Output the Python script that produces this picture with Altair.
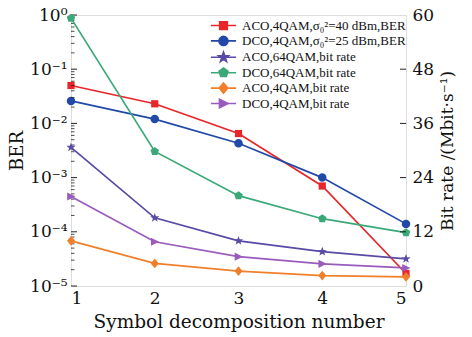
import altair as alt
import pandas as pd

# ---- data ----
symbols = [1, 2, 3, 4, 5]
series_names = [
    "ACO,4QAM,σ₀²=40 dBm,BER",
    "DCO,4QAM,σ₀²=25 dBm,BER",
    "ACO,64QAM,bit rate",
    "DCO,64QAM,bit rate",
    "ACO,4QAM,bit rate",
    "DCO,4QAM,bit rate",
]
aco_4qam_ber = [5.0e-2, 2.3e-2, 6.5e-3, 7.0e-4, 1.7e-5]
dco_4qam_ber = [2.6e-2, 1.2e-2, 4.3e-3, 1.0e-3, 1.4e-4]
aco_64qam_rate = [30.7, 15.1, 10.0, 7.6, 6.0]
dco_64qam_rate = [59.3, 29.8, 20.0, 14.9, 11.8]
aco_4qam_rate = [10.0, 5.0, 3.3, 2.3, 2.0]
dco_4qam_rate = [19.8, 9.8, 6.5, 4.9, 4.0]

ber_ticks_major = [1e-5, 1e-4, 1e-3, 1e-2, 1e-1, 1.0]
ber_ticks_minor = [m * 10.0 ** k for k in range(-5, 0) for m in range(2, 10)]
rate_ticks = [0, 12, 24, 36, 48, 60]

colors = ["#E8262A", "#2248A8", "#5A4AA6", "#3BA877", "#F07F2B", "#9A5BBE"]

# marker outlines (unit square paths)
p_square = "M-0.85,-0.85H0.85V0.85H-0.85Z"
p_circle = "M1,0A1,1,0,1,1,-1,0A1,1,0,1,1,1,0Z"
p_star = ("M0,-1.15L0.27,-0.37L1.09,-0.355L0.44,0.14L0.676,0.93L0,0.46"
          "L-0.676,0.93L-0.44,0.14L-1.09,-0.355L-0.27,-0.37Z")
p_pent = "M0,-1.05L1.0,-0.32L0.62,0.85L-0.62,0.85L-1.0,-0.32Z"
p_diam = "M0,-1.15L0.95,0L0,1.15L-0.95,0Z"
p_tri = "M-0.9,-0.95L1.05,0L-0.9,0.95Z"
shapes = [p_square, p_circle, p_star, p_pent, p_diam, p_tri]
legend_shapes = ["M-2.8,0H2.8" + s for s in shapes]

FONT = "DejaVu Serif"
LFONT = "Liberation Serif"

ber_df = pd.DataFrame({
    "x": symbols * 2,
    "series": [series_names[0]] * 5 + [series_names[1]] * 5,
    "value": aco_4qam_ber + dco_4qam_ber,
})
rate_df = pd.DataFrame({
    "x": symbols * 4,
    "series": sum([[s] * 5 for s in series_names[2:]], []),
    "value": aco_64qam_rate + dco_64qam_rate + aco_4qam_rate + dco_4qam_rate,
})
leg_df = pd.DataFrame({"series": series_names})

cscale = alt.Scale(domain=series_names, range=colors)
sscale = alt.Scale(domain=series_names, range=shapes)

xenc = alt.X("x:Q", scale=alt.Scale(domain=[1, 5], nice=False),
             axis=alt.Axis(title="Symbol decomposition number", values=symbols,
                           format="d", ticks=False, domain=False, grid=False,
                           labelFont=FONT, labelFontSize=17, labelColor="#111",
                           labelPadding=4, titleFont=FONT, titleFontSize=18.5,
                           titleFontWeight="normal", titleColor="#111",
                           titlePadding=6))

ber_scale = alt.Scale(type="log", domain=[1e-5, 1], nice=False)
ber_axis = alt.Axis(
    title="BER", values=ber_ticks_major, ticks=False, domain=False, grid=False,
    labelExpr="'10' + ['⁰','⁻¹','⁻²','⁻³','⁻⁴','⁻⁵'][round(-log(datum.value)/LN10)]",
    labelFont=FONT, labelFontSize=17, labelColor="#111", labelPadding=4,
    titleFont=FONT, titleFontSize=18, titleFontWeight="normal", titleColor="#111",
    titlePadding=3)

ber_line = alt.Chart(ber_df).mark_line(strokeWidth=1.7).encode(
    x=xenc,
    y=alt.Y("value:Q", scale=ber_scale, axis=ber_axis),
    color=alt.Color("series:N", scale=cscale, legend=None),
)
ber_pts = alt.Chart(ber_df).mark_point(filled=True, size=72, opacity=1).encode(
    x="x:Q",
    y=alt.Y("value:Q", scale=ber_scale),
    color=alt.Color("series:N", scale=cscale, legend=None),
    shape=alt.Shape("series:N", scale=sscale, legend=None),
)
ber_major = alt.Chart(pd.DataFrame({"value": ber_ticks_major})).mark_rule(
    color="#222", strokeWidth=1).encode(
    y=alt.Y("value:Q", scale=ber_scale), x=alt.value(0), x2=alt.value(6))
ber_minor = alt.Chart(pd.DataFrame({"value": ber_ticks_minor})).mark_rule(
    color="#222", strokeWidth=0.8).encode(
    y=alt.Y("value:Q", scale=ber_scale), x=alt.value(0), x2=alt.value(3.5))
ber = alt.layer(ber_line, ber_pts, ber_major, ber_minor)

rate_scale = alt.Scale(domain=[0, 60], nice=False)
rate_axis = alt.Axis(
    title="Bit rate /(Mbit·s⁻¹)", orient="right", values=rate_ticks,
    ticks=False, domain=False, grid=False,
    labelFont=FONT, labelFontSize=17, labelColor="#111", labelPadding=6,
    titleFont=FONT, titleFontSize=17, titleFontWeight="normal", titleColor="#111",
    titleAngle=270, titleBaseline="top", titlePadding=6)
rate_line = alt.Chart(rate_df).mark_line(strokeWidth=1.7).encode(
    x="x:Q",
    y=alt.Y("value:Q", scale=rate_scale, axis=rate_axis),
    color=alt.Color("series:N", scale=cscale, legend=None),
)
rate_pts = alt.Chart(rate_df).mark_point(filled=True, size=72, opacity=1).encode(
    x="x:Q",
    y=alt.Y("value:Q", scale=rate_scale),
    color=alt.Color("series:N", scale=cscale, legend=None),
    shape=alt.Shape("series:N", scale=sscale, legend=None),
)
rate_tk = alt.Chart(pd.DataFrame({"value": rate_ticks[1:-1]})).mark_rule(
    color="#222", strokeWidth=1).encode(
    y=alt.Y("value:Q", scale=rate_scale), x=alt.value(329), x2=alt.value(335))
rate = alt.layer(rate_line, rate_pts, rate_tk)

leg = alt.Legend(title=None, orient="none", legendX=146, legendY=4,
                 labelFont=LFONT, labelFontSize=13, labelColor="#111",
                 labelLimit=300,
                 symbolSize=81, symbolStrokeWidth=1.6, symbolOpacity=1,
                 labelOffset=12, rowPadding=-0.6)
legend_layer = alt.Chart(leg_df).mark_point(opacity=0).encode(
    fill=alt.Fill("series:N", scale=alt.Scale(domain=series_names, range=colors), legend=leg),
    stroke=alt.Stroke("series:N", scale=alt.Scale(domain=series_names, range=colors), legend=leg),
    shape=alt.Shape("series:N", scale=alt.Scale(domain=series_names, range=legend_shapes), legend=leg),
)

chart = alt.layer(ber, rate, legend_layer).resolve_scale(
    y="independent", color="independent", shape="independent",
    fill="independent", stroke="independent",
).properties(
    width=335, height=271,
    autosize=alt.AutoSizeParams(type="none"),
    padding={"left": 71, "top": 15, "right": 66, "bottom": 51},
).configure_view(stroke="#222", strokeWidth=1.2).configure(background="white")

chart.save("out.html", embed_options={"renderer": "svg", "actions": False})
